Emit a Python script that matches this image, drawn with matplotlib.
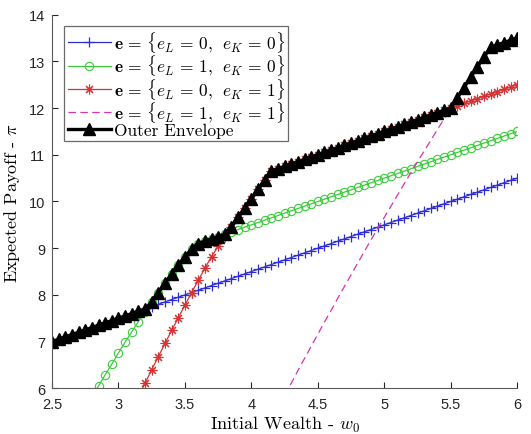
import numpy as np
import matplotlib
matplotlib.use("Agg")
import matplotlib.pyplot as plt
from matplotlib.ticker import FormatStrFormatter

# initial wealth grid (71 samples, 2.5 .. 6.0)
w0 = np.linspace(2.5, 6.0, 71)
nan = np.nan

# e = {eL=0, eK=0}
pay_00 = [
    7.00, 7.05, 7.10, 7.15, 7.20, 7.25, 7.30, 7.35, 7.40, 7.45,
    7.50, 7.55, 7.60, 7.65, 7.70, 7.75, 7.80, 7.85, 7.90, 7.95,
    8.00, 8.05, 8.10, 8.15, 8.20, 8.25, 8.30, 8.35, 8.40, 8.45,
    8.50, 8.55, 8.60, 8.65, 8.70, 8.75, 8.80, 8.85, 8.90, 8.95,
    9.00, 9.05, 9.10, 9.15, 9.20, 9.25, 9.30, 9.35, 9.40, 9.45,
    9.50, 9.55, 9.60, 9.65, 9.70, 9.75, 9.80, 9.85, 9.90, 9.95,
    10.00, 10.05, 10.10, 10.15, 10.20, 10.25, 10.30, 10.35, 10.40, 10.45,
    10.50,
]
# e = {eL=1, eK=0}
pay_10 = [
    nan, nan, nan, nan, nan, nan, 5.80, 6.05, 6.29, 6.52,
    6.76, 6.99, 7.21, 7.43, 7.64, 7.85, 8.05, 8.25, 8.45, 8.64,
    8.82, 8.98, 9.10, 9.15, 9.20, 9.25, 9.30, 9.35, 9.40, 9.45,
    9.50, 9.55, 9.60, 9.65, 9.70, 9.75, 9.80, 9.85, 9.90, 9.95,
    10.00, 10.05, 10.10, 10.15, 10.20, 10.25, 10.30, 10.35, 10.40, 10.45,
    10.50, 10.55, 10.60, 10.65, 10.70, 10.75, 10.80, 10.85, 10.90, 10.95,
    11.00, 11.05, 11.10, 11.15, 11.20, 11.25, 11.30, 11.35, 11.40, 11.45,
    11.50,
]
# e = {eL=0, eK=1}
pay_01 = [
    nan, nan, nan, nan, nan, nan, nan, nan, nan, nan,
    nan, nan, nan, 5.82, 6.11, 6.40, 6.68, 6.96, 7.24, 7.51,
    7.78, 8.05, 8.31, 8.57, 8.82, 9.04, 9.25, 9.45, 9.66, 9.86,
    10.06, 10.26, 10.46, 10.65, 10.70, 10.75, 10.80, 10.85, 10.90, 10.95,
    11.00, 11.05, 11.10, 11.15, 11.20, 11.25, 11.30, 11.35, 11.40, 11.45,
    11.50, 11.55, 11.60, 11.65, 11.70, 11.75, 11.80, 11.85, 11.90, 11.95,
    12.00, 12.05, 12.10, 12.15, 12.20, 12.25, 12.30, 12.35, 12.40, 12.45,
    12.50,
]
# e = {eL=1, eK=1}
pay_11 = [
    nan, nan, nan, nan, nan, nan, nan, nan, nan, nan,
    nan, nan, nan, nan, nan, nan, nan, nan, nan, nan,
    nan, nan, nan, nan, nan, nan, nan, nan, nan, nan,
    nan, nan, nan, nan, nan, 5.85, 6.11, 6.38, 6.64, 6.90,
    7.16, 7.42, 7.67, 7.93, 8.18, 8.43, 8.68, 8.93, 9.18, 9.42,
    9.66, 9.90, 10.14, 10.38, 10.62, 10.85, 11.08, 11.31, 11.54, 11.77,
    11.99, 12.22, 12.44, 12.66, 12.88, 13.09, 13.30, 13.35, 13.40, 13.45,
    13.50,
]

labels = [
    r"$\mathbf{e}\,=\,\{e_L\,=\,0,\;\,e_K\,=\,0\}$",
    r"$\mathbf{e}\,=\,\{e_L\,=\,1,\;\,e_K\,=\,0\}$",
    r"$\mathbf{e}\,=\,\{e_L\,=\,0,\;\,e_K\,=\,1\}$",
    r"$\mathbf{e}\,=\,\{e_L\,=\,1,\;\,e_K\,=\,1\}$",
    "Outer Envelope",
]
xticks = [2.5, 3, 3.5, 4, 4.5, 5, 5.5, 6]
yticks = [6, 7, 8, 9, 10, 11, 12, 13, 14]

plt.rcParams["mathtext.fontset"] = "cm"
plt.rcParams["font.family"] = ["Liberation Sans", "DejaVu Sans"]

envelope = np.nanmax(np.vstack([pay_00, pay_10, pay_01, pay_11]), axis=0)

fig = plt.figure(figsize=(5.31, 4.35), dpi=100)
ax = fig.add_axes([0.098, 0.105, 0.876, 0.859])

ax.plot(w0, pay_00, color="#2f2fd0", lw=0.9, marker="+", ms=7, mew=0.9, label=labels[0])
ax.plot(w0, pay_10, color="#3ccc3c", lw=0.9, marker="o", ms=6, mew=0.8,
        mfc="none", label=labels[1])
ax.plot(w0, pay_01, color="#d43434", lw=0.9, marker=(8, 2, 0), ms=7, mew=0.8,
        label=labels[2])
ax.plot(w0, pay_11, color="#d633b0", lw=0.9, ls=(0, (6, 3.5)), label=labels[3])
ax.plot(w0, envelope, color="black", lw=2.4, marker="^", ms=8.5, label=labels[4])

ax.set_xlim(2.5, 6)
ax.set_ylim(6, 14)
ax.set_xticks(xticks)
ax.set_yticks(yticks)
ax.xaxis.set_major_formatter(FormatStrFormatter("%g"))
ax.tick_params(direction="in", length=4, width=0.8, labelsize=10.5,
               colors="#262626")
ax.tick_params(axis="x", pad=6.5)
ax.tick_params(axis="y", pad=5)
for side in ["top", "right"]:
    ax.spines[side].set_visible(False)
for side in ["left", "bottom"]:
    ax.spines[side].set_color("#5a5a5a")
    ax.spines[side].set_linewidth(0.8)

ax.set_xlabel(r"Initial Wealth - $w_0$", family="cmr10", fontsize=13, labelpad=1.5)
ax.set_ylabel(r"Expected Payoff - $\pi$", family="cmr10", fontsize=13, labelpad=5)

leg = ax.legend(loc="upper left", bbox_to_anchor=(0.026, 0.970),
                prop={"family": "cmr10", "size": 12.5}, fancybox=False,
                edgecolor="#6a6a6a", framealpha=1, borderpad=0.2,
                labelspacing=-0.08, handlelength=2.5, handletextpad=0.15,
                borderaxespad=0)
leg.get_frame().set_linewidth(0.9)

fig.savefig("out.png", dpi=100)
